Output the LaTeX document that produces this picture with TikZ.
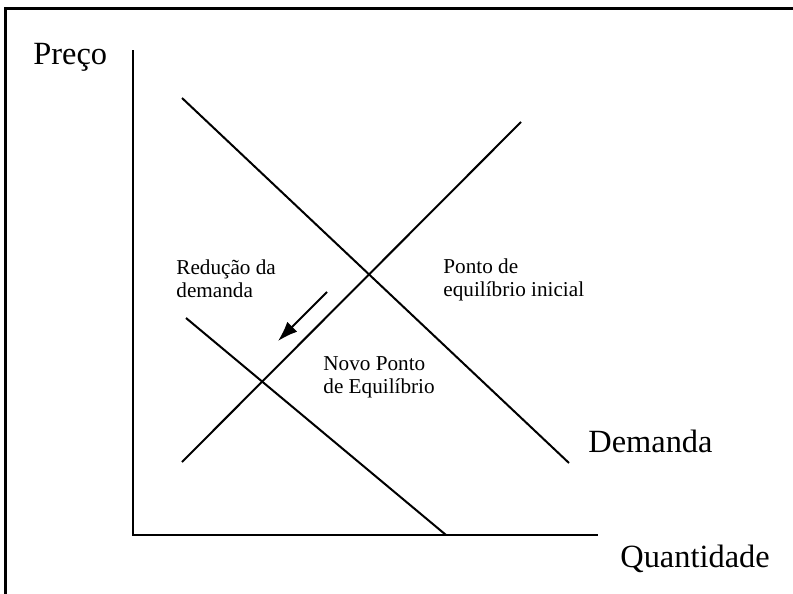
\documentclass[tikz,border=0pt]{standalone}
\usepackage{fontspec}
\setmainfont{Liberation Serif}
\usetikzlibrary{arrows.meta}
\begin{document}
\begin{tikzpicture}[
  x=0.5pt,y=-0.5pt,
  frame/.style={line width=1.6pt},
  axis/.style={line width=1pt},
  curve/.style={line width=1pt},
  biglabel/.style={inner sep=0pt,anchor=base west,font=\fontsize{16.2}{19}\selectfont},
  smalllabel/.style={inner sep=0pt,anchor=north west,align=left,font=\fontsize{10.6}{11.5}\selectfont}
]
\useasboundingbox (0,0) rectangle (793,594);
\draw[frame] (5.5,594) -- (5.5,8.5) -- (793,8.5);

\coordinate (o) at (133,535);
\coordinate (ytop) at (133,50);
\coordinate (xend) at (598,535);
\coordinate (d1) at (182,98);
\coordinate (d2) at (569,463);
\coordinate (s1) at (182,462);
\coordinate (s2) at (521,122);
\coordinate (n1) at (186,318);
\coordinate (n2) at (446,535);
\coordinate (a1) at (327,292);
\coordinate (a2) at (278,341);

\node[biglabel] (preco) at (33,64) {Preço};
\node[biglabel] (demanda) at (588,452) {Demanda};
\node[biglabel] (quant) at (620,567) {Quantidade};
\node[smalllabel] (reducao) at (176,259.5) {Redução da\\demanda};
\node[smalllabel] (inicial) at (443,258.5) {Ponto de\\equilíbrio inicial};
\node[smalllabel] (novo) at (323,356.5) {Novo Ponto\\de Equilíbrio};

\draw[axis] (ytop) -- (o) -- (xend);
\draw[curve] (d1) -- (d2);
\draw[curve] (s1) -- (s2);
\draw[curve] (n1) -- (n2);
\draw[curve,-{Latex[length=10pt,width=7pt]}] (a1) -- (a2);
\end{tikzpicture}
\end{document}
